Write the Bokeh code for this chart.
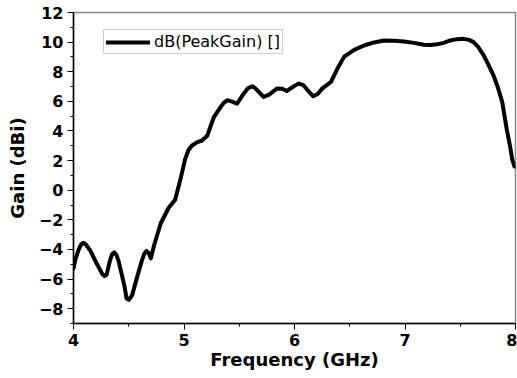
from bokeh.plotting import figure
from bokeh.models import Range1d, Legend, LegendItem, FixedTicker
from bokeh.embed import file_html
from bokeh.resources import INLINE

freq_ghz = [4.00, 4.02, 4.05, 4.07, 4.09, 4.11, 4.15, 4.21, 4.26, 4.28, 4.30, 4.33,
            4.35, 4.37, 4.39, 4.41, 4.46, 4.48, 4.50, 4.53, 4.58, 4.62, 4.64, 4.66,
            4.68, 4.70, 4.73, 4.79, 4.86, 4.92, 4.97, 5.01, 5.04, 5.07, 5.12, 5.16,
            5.21, 5.27, 5.33, 5.36, 5.39, 5.43, 5.48, 5.54, 5.58, 5.62, 5.65, 5.72,
            5.77, 5.84, 5.89, 5.93, 6.00, 6.04, 6.08, 6.13, 6.17, 6.21, 6.25, 6.33,
            6.39, 6.45, 6.54, 6.63, 6.72, 6.81, 6.90, 6.99, 7.08, 7.17, 7.23, 7.29,
            7.35, 7.41, 7.47, 7.53, 7.58, 7.62, 7.66, 7.71, 7.75, 7.80, 7.84, 7.88,
            7.92, 7.95, 7.97, 7.99]
gain_dbi = [-5.3, -4.6, -3.95, -3.65, -3.55, -3.65, -4.05, -4.95, -5.65, -5.8, -5.7, -4.75,
            -4.3, -4.2, -4.4, -4.84, -6.43, -7.3, -7.4, -7.1, -5.75, -4.72, -4.3, -4.1,
            -4.25, -4.6, -3.7, -2.23, -1.2, -0.64, 0.8, 2.1, 2.7, 3.0, 3.25, 3.34,
            3.68, 4.93, 5.6, 5.9, 6.07, 6.0, 5.84, 6.52, 6.9, 7.02, 6.85, 6.3,
            6.45, 6.86, 6.85, 6.7, 7.05, 7.2, 7.1, 6.65, 6.34, 6.5, 6.86, 7.31,
            8.23, 9.02, 9.48, 9.77, 9.98, 10.11, 10.1, 10.04, 9.95, 9.82, 9.8, 9.86,
            9.95, 10.11, 10.2, 10.22, 10.15, 10.0, 9.7, 9.13, 8.55, 7.77, 6.95, 5.95,
            4.14, 3.0, 2.09, 1.6]
series_label = "dB(PeakGain) []"
x_ticks = [4, 5, 6, 7, 8]
x_minor = [4.5, 5.5, 6.5, 7.5]
y_ticks = [-8, -6, -4, -2, 0, 2, 4, 6, 8, 10, 12]
y_minor = [-9, -7, -5, -3, -1, 1, 3, 5, 7, 9, 11]

FONT = "DejaVu Sans"

p = figure(width=517, height=378, output_backend="svg", toolbar_location=None,
           x_range=Range1d(4, 8), y_range=Range1d(-9, 12),
           min_border_left=73, min_border_right=2, min_border_top=12, min_border_bottom=55)
p.background_fill_color = "white"
p.border_fill_color = "white"
p.outline_line_color = "#888888"
p.outline_line_width = 1.5
p.xgrid.visible = False
p.ygrid.visible = False

r = p.line(freq_ghz, gain_dbi, line_color="black", line_width=4, line_join="round", line_cap="round")

p.xaxis.axis_line_color = "black"
p.yaxis.axis_line_color = "black"
p.xaxis.axis_line_width = 1.5
p.yaxis.axis_line_width = 1.5
p.xaxis.major_tick_line_color = "black"
p.yaxis.major_tick_line_color = "black"
p.xaxis.minor_tick_line_color = "black"
p.yaxis.minor_tick_line_color = "black"
p.xaxis.major_tick_in = 0
p.yaxis.major_tick_in = 0
p.xaxis.major_tick_out = 6
p.yaxis.major_tick_out = 6
p.xaxis.minor_tick_in = 0
p.yaxis.minor_tick_in = 0
p.xaxis.minor_tick_out = 3
p.yaxis.minor_tick_out = 3
p.xaxis.major_label_text_font = FONT
p.yaxis.major_label_text_font = FONT
p.xaxis.major_label_text_font_style = "bold"
p.yaxis.major_label_text_font_style = "bold"
p.xaxis.major_label_text_font_size = "16px"
p.yaxis.major_label_text_font_size = "16px"
p.xaxis.major_label_text_color = "black"
p.yaxis.major_label_text_color = "black"
p.xaxis.axis_label_text_font = FONT
p.yaxis.axis_label_text_font = FONT
p.xaxis.axis_label_text_font_style = "bold"
p.yaxis.axis_label_text_font_style = "bold"
p.xaxis.axis_label_text_font_size = "18px"
p.yaxis.axis_label_text_font_size = "18px"
p.xaxis.axis_label_text_color = "black"
p.yaxis.axis_label_text_color = "black"

p.xaxis.ticker = FixedTicker(ticks=x_ticks, minor_ticks=x_minor)
p.yaxis.ticker = FixedTicker(ticks=y_ticks, minor_ticks=y_minor)
p.xaxis.axis_label = "Frequency (GHz)"
p.yaxis.axis_label = "Gain (dBi)"
p.xaxis.major_label_standoff = 4
p.yaxis.major_label_standoff = 4
p.xaxis.axis_label_standoff = 0
p.yaxis.axis_label_standoff = 8

legend = Legend(items=[LegendItem(label=series_label, renderers=[r])],
                location=(30, 269), orientation="vertical")
legend.label_text_font = FONT
legend.label_text_font_size = "16px"
legend.label_text_color = "black"
legend.glyph_width = 44
legend.glyph_height = 16
legend.label_height = 16
legend.label_standoff = 4
legend.padding = 2
legend.margin = 0
legend.spacing = 0
legend.border_line_color = "#999999"
legend.border_line_width = 1
legend.background_fill_color = "white"
legend.background_fill_alpha = 1.0
p.add_layout(legend, "center")

open("out.html", "w").write(file_html(p, INLINE))
